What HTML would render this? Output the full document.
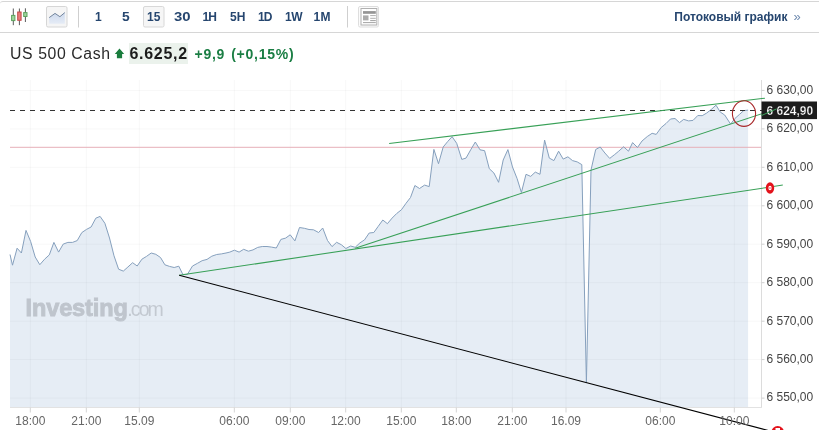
<!DOCTYPE html>
<html><head><meta charset="utf-8">
<style>
html,body{margin:0;padding:0;background:#fff;}
body{width:819px;height:430px;position:relative;overflow:hidden;font-family:"Liberation Sans",Arial,sans-serif;}
.tb{position:absolute;left:0;top:1px;width:819px;height:30px;border-top:1px solid #d6d6d6;border-bottom:1px solid #d6d6d6;border-top-left-radius:3px;}
.iv{position:absolute;top:10px;font-weight:bold;font-size:12px;line-height:14px;color:#26466f;}
.sep{position:absolute;top:6px;width:1px;height:22px;background:#cfcfcf;}
.btn{position:absolute;top:6px;width:19px;height:19px;border:1px solid #dadada;border-radius:2px;background:#f5f5f5;}
.hd{position:absolute;white-space:nowrap;}
svg{position:absolute;left:0;top:0;}
.xl{font-family:"Liberation Sans",Arial,sans-serif;font-size:12px;fill:#666;}
.yl{font-family:"Liberation Sans",Arial,sans-serif;font-size:12px;fill:#444;}
.wm{font-family:"Liberation Sans",Arial,sans-serif;font-size:23.5px;font-weight:bold;fill:#bfc5cd;stroke:#bfc5cd;stroke-width:0.9px;letter-spacing:-0.1px}
.wm2{font-size:19.5px;font-weight:normal;stroke-width:0;letter-spacing:-1.9px;fill:#c3c9d1}
</style></head><body>
<div class="tb"></div>
<svg width="819" height="34" viewBox="0 0 819 34" style="position:absolute;left:0;top:0">
 <line x1="13.3" y1="8.5" x2="13.3" y2="25.2" stroke="#5a5a5a" stroke-width="1"/>
 <rect x="11.6" y="15.4" width="3.3" height="5.2" fill="#9fd49f" stroke="#5da35d" stroke-width="1"/>
 <line x1="19.4" y1="8.5" x2="19.4" y2="25.2" stroke="#5a5a5a" stroke-width="1"/>
 <rect x="17.7" y="12" width="3.4" height="8.3" fill="#ea7b7b" stroke="#c24a4a" stroke-width="1"/>
 <line x1="25.4" y1="8.3" x2="25.4" y2="22" stroke="#5a5a5a" stroke-width="1"/>
 <rect x="23.7" y="12.6" width="3.3" height="3.9" fill="#9fd49f" stroke="#5da35d" stroke-width="1"/>
 <rect x="46.5" y="6.5" width="20.5" height="20.5" rx="1.5" fill="#f5f5f5" stroke="#d6d6d6"/>
 <defs><linearGradient id="lg" x1="0" y1="0" x2="0" y2="1"><stop offset="0" stop-color="#cbd8ec"/><stop offset="1" stop-color="#e6ecf6"/></linearGradient></defs>
 <path d="M49.2,17.6 L55,13.4 L59.9,16.7 L64.8,12.6 L64.8,23.8 L49.2,23.8 Z" fill="url(#lg)"/>
 <path d="M49.2,17.6 L55,13.4 L59.9,16.7 L64.8,12.6" fill="none" stroke="#72849c" stroke-width="1"/>
 <line x1="78.5" y1="6" x2="78.5" y2="27.5" stroke="#cfcfcf"/>
 <rect x="143.5" y="6.5" width="20.5" height="20.5" rx="1.5" fill="#f6f6f6" stroke="#d8d8d8"/>
 <line x1="347.5" y1="6" x2="347.5" y2="27.5" stroke="#cfcfcf"/>
 <rect x="358.5" y="6.5" width="20" height="20.5" rx="1.5" fill="#fbfbfb" stroke="#dedede"/>
 <rect x="361" y="8.5" width="15.8" height="16.5" fill="#fff" stroke="#b0b0b0"/>
 <rect x="363" y="11.1" width="12.8" height="2.7" fill="#959595"/>
 <rect x="363" y="15.4" width="5.5" height="5" fill="#ababab"/>
 <line x1="370.2" y1="15.6" x2="375.8" y2="15.6" stroke="#b0b0b0"/>
 <line x1="370.2" y1="18.3" x2="375.8" y2="18.3" stroke="#b0b0b0"/>
 <line x1="370.2" y1="20.6" x2="375.8" y2="20.6" stroke="#a0a0a0"/>
 <line x1="363" y1="22.6" x2="375.8" y2="22.6" stroke="#a5a5a5"/>
</svg>
<div class="iv" style="left:95px">1</div>
<div class="iv" style="left:122.3px;transform:scaleX(1.15);transform-origin:left">5</div>
<div class="iv" style="left:147px">15</div>
<div class="iv" style="left:173.6px;transform:scaleX(1.24);transform-origin:left">30</div>
<div class="iv" style="left:202.6px;letter-spacing:-1px">1H</div>
<div class="iv" style="left:230px">5H</div>
<div class="iv" style="left:258px;letter-spacing:-1px">1D</div>
<div class="iv" style="left:285px;letter-spacing:-0.5px">1W</div>
<div class="iv" style="left:313.4px;letter-spacing:0.5px">1M</div>
<div class="iv" style="left:674.3px">Потоковый график<span style="font-weight:normal;color:#6f8bb0;font-size:13px;margin-left:6px">»</span></div>

<div class="hd" style="left:10px;top:45px;font-size:15.8px;line-height:18px;color:#2a2a2a;letter-spacing:0.6px">US 500 Cash</div>
<svg width="20" height="20" style="left:110px;top:44px" viewBox="110 44 20 20"><path d="M119.5,48.6 L124.2,53.9 L122.1,53.9 L122.1,58.2 L116.9,58.2 L116.9,53.9 L114.8,53.9 Z" fill="#1a7d3d"/></svg>
<div class="hd" style="left:128.5px;top:43px;width:59.5px;height:20.5px;background:#ebf2ec;"></div>
<div class="hd" style="left:129.5px;top:45px;font-size:16px;line-height:18px;font-weight:bold;color:#1c1c1c;letter-spacing:0.7px">6.625,2</div>
<div class="hd" style="left:194.5px;top:45.7px;font-size:14px;line-height:16px;font-weight:bold;color:#1b7e44;letter-spacing:0.75px">+9,9<span style="margin-left:6px">(+0,15%)</span></div>

<svg width="819" height="430" viewBox="0 0 819 430" style="left:0;top:0;pointer-events:none">
<path d="M10.0,254.5 L12.5,265.2 L17.1,248.2 L21.4,253.0 L26.0,230.4 L30.6,241.4 L35.2,257.0 L39.8,264.7 L44.6,259.2 L49.3,254.9 L53.9,242.4 L58.6,252.1 L63.2,244.1 L67.9,242.4 L72.5,242.4 L77.2,240.6 L81.8,232.6 L86.5,229.4 L91.1,227.0 L95.8,218.2 L100.1,216.4 L104.9,223.3 L109.5,238.0 L114.0,255.8 L118.6,269.2 L123.3,271.1 L127.9,267.0 L132.6,262.7 L137.2,266.0 L141.9,259.2 L146.5,256.4 L151.2,253.0 L155.8,254.3 L160.5,257.5 L164.9,264.8 L169.5,266.4 L174.2,267.5 L178.8,266.2 L182.8,274.4 L187.4,274.4 L192.5,266.0 L197.5,263.3 L202.1,260.7 L207.0,259.4 L211.8,256.2 L216.7,254.5 L221.4,253.9 L226.0,253.0 L229.8,252.1 L234.4,250.2 L239.1,252.1 L243.7,249.3 L248.4,251.2 L253.0,249.9 L257.7,247.4 L262.3,246.5 L267.0,246.5 L271.6,247.1 L276.3,248.0 L280.9,239.4 L285.6,238.1 L290.2,234.8 L294.9,240.9 L299.5,227.5 L304.4,228.3 L309.0,229.5 L313.5,229.8 L318.6,232.5 L322.7,228.0 L327.5,240.5 L332.0,246.6 L336.6,242.3 L341.3,244.7 L345.9,248.5 L350.6,246.0 L355.2,247.3 L359.9,242.9 L364.5,239.9 L369.2,233.0 L373.8,232.5 L378.1,226.5 L382.8,220.0 L387.4,223.7 L392.1,218.1 L396.7,213.5 L401.4,209.8 L406.0,203.3 L410.5,197.5 L414.9,185.5 L419.5,188.5 L424.6,185.1 L429.2,186.6 L433.9,149.4 L438.5,163.7 L443.2,147.0 L447.8,141.4 L452.1,136.7 L456.7,143.3 L461.8,159.4 L466.0,158.1 L470.7,149.8 L475.3,142.0 L480.0,149.8 L484.6,150.7 L489.3,168.7 L493.9,173.0 L498.6,182.3 L503.2,160.0 L507.9,149.6 L512.5,167.0 L517.1,178.6 L521.4,192.5 L526.0,174.3 L530.7,176.4 L535.3,172.1 L540.0,174.3 L544.6,140.1 L549.3,158.1 L553.9,160.6 L558.6,151.2 L563.2,159.1 L567.9,156.8 L572.5,160.6 L577.2,161.9 L581.8,164.6 L586.4,382.6 L591.0,170.0 L595.7,149.5 L600.2,147.0 L604.9,153.0 L609.7,158.4 L614.7,154.5 L618.7,151.2 L623.6,146.8 L628.5,151.2 L632.6,142.6 L637.5,147.5 L642.0,141.0 L647.3,136.5 L652.1,133.3 L656.2,134.4 L661.1,127.6 L666.0,123.5 L670.5,119.0 L675.0,118.5 L679.5,122.6 L683.7,119.4 L688.6,120.9 L693.0,120.4 L697.8,115.5 L702.2,115.7 L706.6,113.1 L711.0,109.7 L716.0,105.2 L720.3,112.1 L724.7,115.0 L730.6,124.1 L735.0,118.4 L739.4,114.5 L743.7,110.6 L748.1,110.1 L748.1,407.5 L10.0,407.5 Z" fill="#e6edf5" stroke="none"/>
<line x1="30.3" y1="80" x2="30.3" y2="407.5" stroke="rgba(0,0,0,0.03)" stroke-width="1"/>
<line x1="86.3" y1="80" x2="86.3" y2="407.5" stroke="rgba(0,0,0,0.03)" stroke-width="1"/>
<line x1="139.3" y1="80" x2="139.3" y2="407.5" stroke="rgba(0,0,0,0.03)" stroke-width="1"/>
<line x1="234.3" y1="80" x2="234.3" y2="407.5" stroke="rgba(0,0,0,0.03)" stroke-width="1"/>
<line x1="290.3" y1="80" x2="290.3" y2="407.5" stroke="rgba(0,0,0,0.03)" stroke-width="1"/>
<line x1="345.7" y1="80" x2="345.7" y2="407.5" stroke="rgba(0,0,0,0.03)" stroke-width="1"/>
<line x1="401.3" y1="80" x2="401.3" y2="407.5" stroke="rgba(0,0,0,0.03)" stroke-width="1"/>
<line x1="456.3" y1="80" x2="456.3" y2="407.5" stroke="rgba(0,0,0,0.03)" stroke-width="1"/>
<line x1="512.3" y1="80" x2="512.3" y2="407.5" stroke="rgba(0,0,0,0.03)" stroke-width="1"/>
<line x1="566.0" y1="80" x2="566.0" y2="407.5" stroke="rgba(0,0,0,0.03)" stroke-width="1"/>
<line x1="660.3" y1="80" x2="660.3" y2="407.5" stroke="rgba(0,0,0,0.03)" stroke-width="1"/>
<line x1="734.3" y1="80" x2="734.3" y2="407.5" stroke="rgba(0,0,0,0.03)" stroke-width="1"/>
<line x1="10" y1="90.4" x2="761.5" y2="90.4" stroke="rgba(0,0,0,0.03)" stroke-width="1"/>
<line x1="10" y1="128.9" x2="761.5" y2="128.9" stroke="rgba(0,0,0,0.03)" stroke-width="1"/>
<line x1="10" y1="167.3" x2="761.5" y2="167.3" stroke="rgba(0,0,0,0.03)" stroke-width="1"/>
<line x1="10" y1="205.8" x2="761.5" y2="205.8" stroke="rgba(0,0,0,0.03)" stroke-width="1"/>
<line x1="10" y1="244.2" x2="761.5" y2="244.2" stroke="rgba(0,0,0,0.03)" stroke-width="1"/>
<line x1="10" y1="282.7" x2="761.5" y2="282.7" stroke="rgba(0,0,0,0.03)" stroke-width="1"/>
<line x1="10" y1="321.2" x2="761.5" y2="321.2" stroke="rgba(0,0,0,0.03)" stroke-width="1"/>
<line x1="10" y1="359.6" x2="761.5" y2="359.6" stroke="rgba(0,0,0,0.03)" stroke-width="1"/>
<line x1="10" y1="398.1" x2="761.5" y2="398.1" stroke="rgba(0,0,0,0.03)" stroke-width="1"/>
<line x1="761.5" y1="80" x2="761.5" y2="408" stroke="#dcdcdc" stroke-width="1"/>
<line x1="10" y1="407.5" x2="762" y2="407.5" stroke="#e2e2e2" stroke-width="1"/>
<line x1="30.3" y1="407.5" x2="30.3" y2="412.5" stroke="#d4d4d4" stroke-width="1"/>
<line x1="86.3" y1="407.5" x2="86.3" y2="412.5" stroke="#d4d4d4" stroke-width="1"/>
<line x1="139.3" y1="407.5" x2="139.3" y2="412.5" stroke="#d4d4d4" stroke-width="1"/>
<line x1="234.3" y1="407.5" x2="234.3" y2="412.5" stroke="#d4d4d4" stroke-width="1"/>
<line x1="290.3" y1="407.5" x2="290.3" y2="412.5" stroke="#d4d4d4" stroke-width="1"/>
<line x1="345.7" y1="407.5" x2="345.7" y2="412.5" stroke="#d4d4d4" stroke-width="1"/>
<line x1="401.3" y1="407.5" x2="401.3" y2="412.5" stroke="#d4d4d4" stroke-width="1"/>
<line x1="456.3" y1="407.5" x2="456.3" y2="412.5" stroke="#d4d4d4" stroke-width="1"/>
<line x1="512.3" y1="407.5" x2="512.3" y2="412.5" stroke="#d4d4d4" stroke-width="1"/>
<line x1="566.0" y1="407.5" x2="566.0" y2="412.5" stroke="#d4d4d4" stroke-width="1"/>
<line x1="660.3" y1="407.5" x2="660.3" y2="412.5" stroke="#d4d4d4" stroke-width="1"/>
<line x1="734.3" y1="407.5" x2="734.3" y2="412.5" stroke="#d4d4d4" stroke-width="1"/>
<line x1="761.5" y1="90.4" x2="764.5" y2="90.4" stroke="#cfcfcf" stroke-width="1"/>
<line x1="761.5" y1="128.9" x2="764.5" y2="128.9" stroke="#cfcfcf" stroke-width="1"/>
<line x1="761.5" y1="167.3" x2="764.5" y2="167.3" stroke="#cfcfcf" stroke-width="1"/>
<line x1="761.5" y1="205.8" x2="764.5" y2="205.8" stroke="#cfcfcf" stroke-width="1"/>
<line x1="761.5" y1="244.2" x2="764.5" y2="244.2" stroke="#cfcfcf" stroke-width="1"/>
<line x1="761.5" y1="282.7" x2="764.5" y2="282.7" stroke="#cfcfcf" stroke-width="1"/>
<line x1="761.5" y1="321.2" x2="764.5" y2="321.2" stroke="#cfcfcf" stroke-width="1"/>
<line x1="761.5" y1="359.6" x2="764.5" y2="359.6" stroke="#cfcfcf" stroke-width="1"/>
<line x1="761.5" y1="398.1" x2="764.5" y2="398.1" stroke="#cfcfcf" stroke-width="1"/>
<line x1="10" y1="147.3" x2="761" y2="147.3" stroke="#e6afb8" stroke-width="1"/>
<path d="M10.0,254.5 L12.5,265.2 L17.1,248.2 L21.4,253.0 L26.0,230.4 L30.6,241.4 L35.2,257.0 L39.8,264.7 L44.6,259.2 L49.3,254.9 L53.9,242.4 L58.6,252.1 L63.2,244.1 L67.9,242.4 L72.5,242.4 L77.2,240.6 L81.8,232.6 L86.5,229.4 L91.1,227.0 L95.8,218.2 L100.1,216.4 L104.9,223.3 L109.5,238.0 L114.0,255.8 L118.6,269.2 L123.3,271.1 L127.9,267.0 L132.6,262.7 L137.2,266.0 L141.9,259.2 L146.5,256.4 L151.2,253.0 L155.8,254.3 L160.5,257.5 L164.9,264.8 L169.5,266.4 L174.2,267.5 L178.8,266.2 L182.8,274.4 L187.4,274.4 L192.5,266.0 L197.5,263.3 L202.1,260.7 L207.0,259.4 L211.8,256.2 L216.7,254.5 L221.4,253.9 L226.0,253.0 L229.8,252.1 L234.4,250.2 L239.1,252.1 L243.7,249.3 L248.4,251.2 L253.0,249.9 L257.7,247.4 L262.3,246.5 L267.0,246.5 L271.6,247.1 L276.3,248.0 L280.9,239.4 L285.6,238.1 L290.2,234.8 L294.9,240.9 L299.5,227.5 L304.4,228.3 L309.0,229.5 L313.5,229.8 L318.6,232.5 L322.7,228.0 L327.5,240.5 L332.0,246.6 L336.6,242.3 L341.3,244.7 L345.9,248.5 L350.6,246.0 L355.2,247.3 L359.9,242.9 L364.5,239.9 L369.2,233.0 L373.8,232.5 L378.1,226.5 L382.8,220.0 L387.4,223.7 L392.1,218.1 L396.7,213.5 L401.4,209.8 L406.0,203.3 L410.5,197.5 L414.9,185.5 L419.5,188.5 L424.6,185.1 L429.2,186.6 L433.9,149.4 L438.5,163.7 L443.2,147.0 L447.8,141.4 L452.1,136.7 L456.7,143.3 L461.8,159.4 L466.0,158.1 L470.7,149.8 L475.3,142.0 L480.0,149.8 L484.6,150.7 L489.3,168.7 L493.9,173.0 L498.6,182.3 L503.2,160.0 L507.9,149.6 L512.5,167.0 L517.1,178.6 L521.4,192.5 L526.0,174.3 L530.7,176.4 L535.3,172.1 L540.0,174.3 L544.6,140.1 L549.3,158.1 L553.9,160.6 L558.6,151.2 L563.2,159.1 L567.9,156.8 L572.5,160.6 L577.2,161.9 L581.8,164.6 L586.4,382.6 L591.0,170.0 L595.7,149.5 L600.2,147.0 L604.9,153.0 L609.7,158.4 L614.7,154.5 L618.7,151.2 L623.6,146.8 L628.5,151.2 L632.6,142.6 L637.5,147.5 L642.0,141.0 L647.3,136.5 L652.1,133.3 L656.2,134.4 L661.1,127.6 L666.0,123.5 L670.5,119.0 L675.0,118.5 L679.5,122.6 L683.7,119.4 L688.6,120.9 L693.0,120.4 L697.8,115.5 L702.2,115.7 L706.6,113.1 L711.0,109.7 L716.0,105.2 L720.3,112.1 L724.7,115.0 L730.6,124.1 L735.0,118.4 L739.4,114.5 L743.7,110.6 L748.1,110.1" fill="none" stroke="#86a0bd" stroke-width="1" stroke-linejoin="round"/>
<line x1="10" y1="110.5" x2="762" y2="110.5" stroke="#333" stroke-width="1" stroke-dasharray="5 5"/>
<line x1="179.2" y1="275.3" x2="782.8" y2="185.1" stroke="#38a057" stroke-width="1.05"/>
<line x1="355.2" y1="248.3" x2="776.6" y2="108.9" stroke="#38a057" stroke-width="1.05"/>
<line x1="389.1" y1="143.4" x2="764.9" y2="98.2" stroke="#38a057" stroke-width="1.05"/>
<line x1="179.2" y1="275.3" x2="777.7" y2="433" stroke="#000" stroke-width="1.05"/>
<ellipse cx="744" cy="113.6" rx="11.6" ry="12.8" fill="none" stroke="#a8282a" stroke-width="1.1"/>
<ellipse cx="770" cy="188" rx="4.2" ry="5.8" fill="#e3121b"/>
<ellipse cx="770" cy="188" rx="1.05" ry="1.6" fill="none" stroke="#fff" stroke-width="1.15"/>
<ellipse cx="777.7" cy="433" rx="6.5" ry="7" fill="#e3121b"/>
<rect x="775.5" y="428" width="4.5" height="4" fill="#fff"/>
<rect x="761.5" y="101.5" width="55.5" height="17.6" fill="#1c1c1c"/>
<text x="30.3" y="424.6" text-anchor="middle" class="xl">18:00</text>
<text x="86.3" y="424.6" text-anchor="middle" class="xl">21:00</text>
<text x="139.3" y="424.6" text-anchor="middle" class="xl">15.09</text>
<text x="234.3" y="424.6" text-anchor="middle" class="xl">06:00</text>
<text x="290.3" y="424.6" text-anchor="middle" class="xl">09:00</text>
<text x="345.7" y="424.6" text-anchor="middle" class="xl">12:00</text>
<text x="401.3" y="424.6" text-anchor="middle" class="xl">15:00</text>
<text x="456.3" y="424.6" text-anchor="middle" class="xl">18:00</text>
<text x="512.3" y="424.6" text-anchor="middle" class="xl">21:00</text>
<text x="566.0" y="424.6" text-anchor="middle" class="xl">16.09</text>
<text x="660.3" y="424.6" text-anchor="middle" class="xl">06:00</text>
<text x="734.3" y="424.6" text-anchor="middle" class="xl">10:00</text>
<text x="766.5" y="93.7" class="yl">6 630,00</text>
<text x="766.5" y="132.2" class="yl">6 620,00</text>
<text x="766.5" y="170.6" class="yl">6 610,00</text>
<text x="766.5" y="209.1" class="yl">6 600,00</text>
<text x="766.5" y="247.5" class="yl">6 590,00</text>
<text x="766.5" y="286.0" class="yl">6 580,00</text>
<text x="766.5" y="324.5" class="yl">6 570,00</text>
<text x="766.5" y="362.9" class="yl">6 560,00</text>
<text x="766.5" y="401.4" class="yl">6 550,00</text>
<text x="766.5" y="114.8" class="yl" style="fill:#fff;font-weight:bold;stroke:#1c1c1c;stroke-width:0.25px">6 624,90</text>
<line x1="761.5" y1="115.5" x2="776.6" y2="108.9" stroke="#38a057" stroke-width="1"/>
<text x="25.5" y="316.4" class="wm">Investing<tspan class="wm2" dx="-0.5">.com</tspan></text>
</svg>
</body></html>
